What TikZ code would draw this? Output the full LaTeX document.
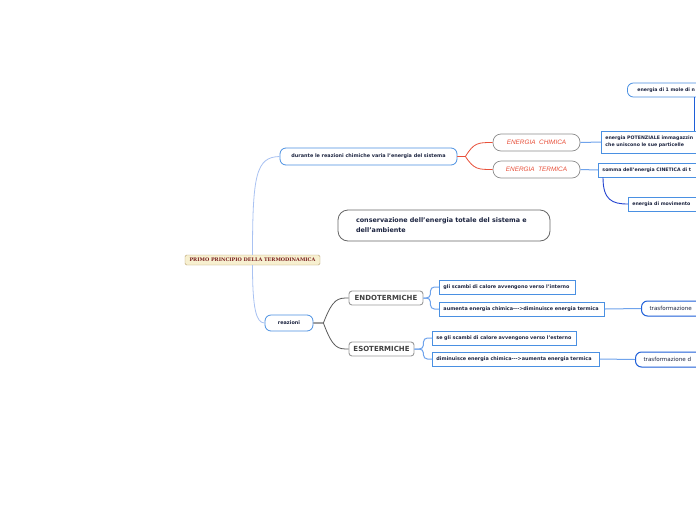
\documentclass[tikz,border=0pt]{standalone}
\usepackage{fontspec}
\setmainfont{DejaVu Sans}
\newfontfamily\rootfont{DejaVu Serif}
\newfontfamily\handfont{Liberation Sans}
\definecolor{boxblue}{HTML}{4A90E2}
\definecolor{lightln}{HTML}{A9C2F2}
\definecolor{midln}{HTML}{6FA3EC}
\definecolor{deepblue}{HTML}{1E5FD8}
\definecolor{darkln}{HTML}{2444D0}
\definecolor{txt}{HTML}{1C2440}
\definecolor{redtxt}{HTML}{E8503A}
\definecolor{rootfill}{HTML}{F7F0D0}
\definecolor{rootdraw}{HTML}{B8A070}
\definecolor{roottxt}{HTML}{7A1F1F}
\tikzset{
  base/.style={inner sep=0pt, text=txt, font=\bfseries\fontsize{4.9}{5.8}\selectfont},
  roundbox/.style={base, draw=boxblue, line width=0.8pt, rounded corners=6pt, fill=white},
  sqbox/.style={base, draw=boxblue, line width=0.9pt, fill=white, anchor=west, align=left, inner xsep=4pt},
  graybox/.style={base, draw=black!40, line width=0.9pt, rounded corners=3pt, fill=white, text=black!75, font=\bfseries\fontsize{7}{7}\selectfont},
  handbox/.style={base, draw=black!45, line width=0.7pt, rounded corners=8pt, fill=white, text=redtxt, font=\handfont\itshape\fontsize{6.4}{7}\selectfont},
  trbox/.style={base, draw=deepblue, line width=1pt, rounded corners=6pt, fill=white, anchor=west, align=left, inner xsep=8pt, font=\fontsize{5.6}{6.5}\selectfont},
  rootln/.style={draw=lightln, line width=0.8pt},
  redln/.style={draw=redtxt, line width=0.8pt},
  blueln/.style={draw=midln, line width=1pt},
  grayln/.style={draw=black!65, line width=0.8pt},
}
\begin{document}
\begin{tikzpicture}[x=1pt,y=-1pt]
\useasboundingbox (0,0) rectangle (696,520);
\fill[white] (0,0) rectangle (696,520);
\clip (0,0) rectangle (696,520);

% nodes
\node[base, draw=rootdraw, fill=rootfill, rounded corners=1.5pt, minimum width=135pt, minimum height=10pt, text=roottxt, font=\rootfont\bfseries\fontsize{4.9}{6}\selectfont] (root) at (252.5,260) {PRIMO PRINCIPIO DELLA TERMODINAMICA};

\node[roundbox, minimum width=177pt, minimum height=17pt] (dur) at (368.5,156.5) {durante le reazioni chimiche varia l'energia del sistema};

\node[handbox, minimum width=87pt, minimum height=17pt] (chim) at (536.5,142.5) {ENERGIA\ \ CHIMICA};
\node[handbox, minimum width=87pt, minimum height=17pt] (term) at (536.5,169.5) {ENERGIA\ \ TERMICA};

\node[sqbox, text width=120pt, minimum height=22pt, font=\bfseries\fontsize{4.7}{7}\selectfont] (pot) at (601,142) {energia POTENZIALE immagazzin\\che uniscono le sue particelle};
\node[roundbox, anchor=west, align=left, inner xsep=10pt, text width=80pt, minimum height=14pt, font=\bfseries\fontsize{4.7}{5.5}\selectfont] (mole) at (627,90) {energia di 1 mole di n};
\node[sqbox, text width=120pt, minimum height=14pt, font=\bfseries\fontsize{4.7}{5.5}\selectfont] (somma) at (598,170) {somma dell'energia CINETICA di t};
\node[sqbox, text width=80pt, minimum height=14pt, font=\bfseries\fontsize{4.7}{5.5}\selectfont] (mov) at (628,204) {energia di movimento};

\node[base, draw=black!60, line width=0.8pt, rounded corners=10pt, fill=white, minimum width=212pt, minimum height=31pt, text width=176pt, align=left, font=\bfseries\fontsize{6.4}{10}\selectfont, text=txt] (cons) at (444,225.5) {conservazione dell'energia totale del sistema e\\dell'ambiente};

\node[roundbox, minimum width=48pt, minimum height=16pt] (reaz) at (289,323) {reazioni};

\node[graybox, minimum width=74pt, minimum height=14pt] (endo) at (386,298) {ENDOTERMICHE};
\node[graybox, minimum width=65pt, minimum height=14pt] (eso) at (381.5,349) {ESOTERMICHE};

\node[sqbox, text width=128pt, minimum height=14pt, font=\bfseries\fontsize{4.85}{5.5}\selectfont] (sc1) at (439,287) {\mbox{gli scambi di calore avvengono verso l'interno}};
\node[sqbox, text width=157pt, minimum height=14pt] (aum1) at (439,309) {\mbox{aumenta energia chimica-{}-{}-{}>diminuisce energia termica}};
\node[sqbox, text width=136pt, minimum height=14pt, font=\bfseries\fontsize{4.85}{5.5}\selectfont] (sc2) at (432,338) {\mbox{se gli scambi di calore avvengono verso l'esterno}};
\node[sqbox, text width=159pt, minimum height=14pt] (dim2) at (432,359) {\mbox{diminuisce energia chimica-{}-{}-{}>aumenta energia termica}};

\node[trbox, text width=80pt, minimum height=15pt] (tras1) at (641,308.5) {trasformazione};
\node[trbox, text width=80pt, minimum height=15pt] (tras2) at (635,359.5) {trasformazione d};

% connectors
\draw[rootln] (root.north) .. controls (252.5,175) and (256,157) .. (dur.west);
\draw[rootln] (root.south) .. controls (252.5,308) and (256,323) .. (reaz.west);

\draw[redln] (dur.east) -- ++(8,0) .. controls (474,142.5) and (478,142.5) .. (chim.west);
\draw[redln] (dur.east) -- ++(8,0) .. controls (474,169.5) and (478,169.5) .. (term.west);

\draw[blueln] (chim.east) -- (pot.west);
\draw[blueln] (term.east) -- (somma.west);
\draw[deepblue, line width=1pt] ([xshift=67pt]mole.south west) -- ([xshift=67pt]mole.south west |- pot.north);
\draw[darkln, line width=0.9pt] ([xshift=5pt]somma.south west) .. controls (603,200) and (612,204) .. (mov.west);

\draw[grayln] (reaz.east) -- ++(10,0) .. controls (333,298) and (338,298) .. (endo.west);
\draw[grayln] (reaz.east) -- ++(10,0) .. controls (333,349) and (338,349) .. (eso.west);

\draw[blueln, rounded corners=4pt] (endo.east) -- ++(7,0) |- (sc1.west);
\draw[blueln, rounded corners=4pt] (endo.east) -- ++(7,0) |- (aum1.west);
\draw[blueln, rounded corners=4pt] (eso.east) -- ++(9,0) |- (sc2.west);
\draw[blueln, rounded corners=4pt] (eso.east) -- ++(9,0) |- (dim2.west);

\draw[blueln] (aum1.east) -- (tras1.west);
\draw[blueln] (dim2.east) -- (tras2.west);
\end{tikzpicture}
\end{document}
